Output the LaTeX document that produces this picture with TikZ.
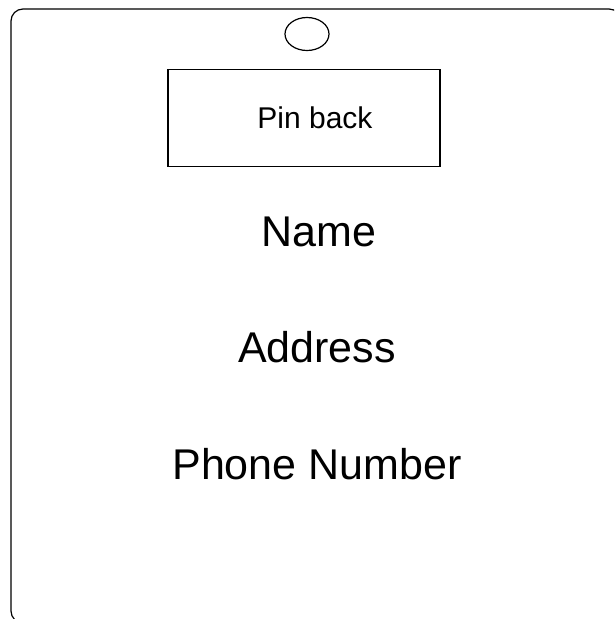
\documentclass[tikz,border=0pt]{standalone}
\usepackage{fontspec}
\setmainfont{Liberation Sans}
\usepackage{tikz}
\usetikzlibrary{positioning,shapes.geometric}
\tikzset{
  badge/.style   ={draw, line width=1.2pt, rounded corners=12pt},
  pinbox/.style  ={draw, line width=1.2pt, minimum width=272pt,
                   minimum height=97pt, inner sep=0pt,
                   font=\fontsize{30}{34}\selectfont},
  holeshape/.style={draw, line width=1.2pt, ellipse, minimum width=44pt,
                   minimum height=33pt, inner sep=0pt},
  fieldtext/.style={anchor=base, inner sep=0pt,
                   font=\fontsize{43}{50}\selectfont},
}

\begin{document}
\begin{tikzpicture}[x=1pt, y=-1pt]
  \useasboundingbox (0,0) rectangle (614,619);
  \begin{scope}
    \clip (0,0) rectangle (614,619);
    \draw[badge] (11,9) rectangle (621,623);
  \end{scope}

  \node[holeshape] (hole) at (307,34) {};
  \node[pinbox] (pin) at (304,118) {\hspace*{22pt}Pin back};

  \node[fieldtext] (name)  at (319,246) {Name};
  \node[fieldtext] (addr)  at (317,362) {Address};
  \node[fieldtext] (phone) at (317,479) {Phone Number};
\end{tikzpicture}
\end{document}
